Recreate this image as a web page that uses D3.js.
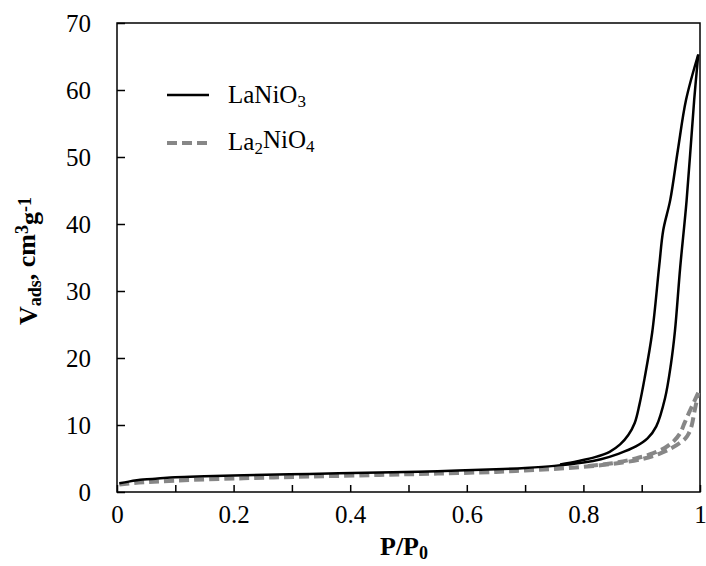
<!DOCTYPE html>
<html>
<head>
<meta charset="utf-8">
<script src="https://cdn.jsdelivr.net/npm/d3@7"></script>
<style>
  body { margin: 0; background: #fff; }
</style>
</head>
<body>
<svg id="chart" width="706" height="566"></svg>
<script>
// LaNiO3 isotherm, adsorption then desorption branch (P/P0, V cm3/g)
var laNiO3Ads = [
  [0.004, 1.3], [0.02, 1.55], [0.045, 1.85], [0.07, 2.0], [0.10, 2.2],
  [0.15, 2.35], [0.217, 2.5], [0.33, 2.7], [0.45, 2.9], [0.55, 3.1],
  [0.65, 3.4], [0.70, 3.6], [0.75, 3.9], [0.80, 4.4], [0.83, 4.9],
  [0.86, 5.7], [0.89, 6.8], [0.91, 8.0], [0.925, 9.8], [0.94, 14.0],
  [0.95, 19.0], [0.957, 24.0], [0.966, 33.5], [0.977, 43.5], [0.99, 58.5],
  [0.997, 65.3]
];
var laNiO3Des = [
  [0.997, 65.3], [0.976, 58.5], [0.962, 51.0], [0.949, 43.6], [0.937, 39.1],
  [0.930, 33.7], [0.918, 23.8], [0.905, 17.0], [0.896, 13.0], [0.888, 10.3],
  [0.877, 8.5], [0.863, 7.1], [0.845, 6.0], [0.82, 5.2], [0.79, 4.6], [0.76, 4.1]
];
// La2NiO4 isotherm
var la2NiO4Ads = [
  [0.004, 1.1], [0.03, 1.35], [0.10, 1.7], [0.217, 2.05], [0.33, 2.3],
  [0.45, 2.55], [0.55, 2.75], [0.65, 3.0], [0.70, 3.2], [0.75, 3.45],
  [0.80, 3.75], [0.85, 4.2], [0.90, 4.9], [0.93, 5.7], [0.95, 6.5],
  [0.965, 7.3], [0.975, 8.0], [0.981, 8.8], [0.986, 10.0], [0.990, 11.8],
  [0.994, 13.5], [0.997, 14.8]
];
var la2NiO4Des = [
  [0.997, 14.8], [0.99, 13.5], [0.981, 11.8], [0.973, 10.2], [0.966, 8.8],
  [0.955, 7.6], [0.94, 6.6], [0.92, 5.8], [0.89, 5.0], [0.85, 4.3], [0.80, 3.8]
];

var xTicks = [0, 0.1, 0.2, 0.3, 0.4, 0.5, 0.6, 0.7, 0.8, 0.9, 1];
var yTicks = [0, 10, 20, 30, 40, 50, 60, 70];

var FONT = "'Liberation Serif', serif";

var svg = d3.select('#chart');
var margin = { left: 117, right: 6, top: 23, bottom: 74 };
var W = 706, H = 566;

var x = d3.scaleLinear().domain([0, 1]).range([margin.left, W - margin.right]);
var y = d3.scaleLinear().domain([0, 70]).range([H - margin.bottom, margin.top]);

// frame
svg.append('rect')
  .attr('x', x(0)).attr('y', y(70))
  .attr('width', x(1) - x(0)).attr('height', y(0) - y(70))
  .attr('fill', 'none').attr('stroke', '#000').attr('stroke-width', 1.5);

var xAxis = d3.axisBottom(x).tickValues(xTicks).tickSize(-7).tickPadding(13)
  .tickFormat(function(d, i) { return i % 2 ? '' : d3.format('~g')(d); });
var gx = svg.append('g').attr('transform', 'translate(0,' + y(0) + ')').call(xAxis);
gx.select('.domain').remove();
gx.selectAll('line').attr('stroke-width', 1.5);
gx.selectAll('text').style('font-size', '25px').attr('dy', '0.71em');

var yAxis = d3.axisLeft(y).tickValues(yTicks).tickSize(-8).tickPadding(26);
var gy = svg.append('g').attr('transform', 'translate(' + x(0) + ',0)').call(yAxis);
gy.select('.domain').remove();
gy.selectAll('line').attr('stroke-width', 1.5);
gy.selectAll('text').style('font-size', '25px');

var line = d3.line()
  .x(function(d) { return x(d[0]); })
  .y(function(d) { return y(d[1]); })
  .curve(d3.curveCatmullRom.alpha(0.5));

[la2NiO4Ads, la2NiO4Des].forEach(function(s) {
  svg.append('path').datum(s).attr('d', line)
    .attr('fill', 'none').attr('stroke', '#878787').attr('stroke-width', 4)
    .attr('stroke-dasharray', '10,5');
});
[laNiO3Ads, laNiO3Des].forEach(function(s) {
  svg.append('path').datum(s).attr('d', line)
    .attr('fill', 'none').attr('stroke', '#000').attr('stroke-width', 2.5);
});

// legend
var leg = svg.append('g');
leg.append('line').attr('x1', 167).attr('x2', 209).attr('y1', 95).attr('y2', 95)
  .attr('stroke', '#000').attr('stroke-width', 2.5);
leg.append('line').attr('x1', 167).attr('x2', 209).attr('y1', 143).attr('y2', 143)
  .attr('stroke', '#878787').attr('stroke-width', 4).attr('stroke-dasharray', '10,5');

function formula(g, xpos, ypos, parts) {
  var t = g.append('text').attr('x', xpos).attr('y', ypos).style('font-size', '25px');
  parts.forEach(function(p) {
    var ts = t.append('tspan').text(p[0]);
    if (p[1] === 'sub') ts.attr('dy', '0.25em').style('font-size', '17px');
    if (p[1] === 'up') ts.attr('dy', '-0.25em');
  });
  return t;
}
formula(leg, 228, 103, [['LaNiO'], ['3', 'sub']]);
formula(leg, 228, 150, [['La'], ['2', 'sub'], ['NiO', 'up'], ['4', 'sub']]);

// axis titles
var xt = svg.append('text').attr('x', 404).attr('y', 555)
  .attr('text-anchor', 'middle').style('font-size', '26px').style('font-weight', 'bold');
xt.append('tspan').text('P/P');
xt.append('tspan').text('0').attr('dy', '0.2em').style('font-size', '18px');

var yt = svg.append('text')
  .attr('transform', 'translate(37,261) rotate(-90)')
  .attr('text-anchor', 'middle').style('font-size', '26px').style('font-weight', 'bold');
yt.append('tspan').text('V');
yt.append('tspan').text('ads').attr('dy', '0.22em').style('font-size', '18px');
yt.append('tspan').text(', cm').attr('dy', '-0.22em');
yt.append('tspan').text('3').attr('dy', '-0.4em').style('font-size', '18px');
yt.append('tspan').text('g').attr('dy', '0.4em');
yt.append('tspan').text('-1').attr('dy', '-0.4em').style('font-size', '18px');

svg.selectAll('text').style('font-family', FONT).attr('fill', '#000');
</script>
</body>
</html>
